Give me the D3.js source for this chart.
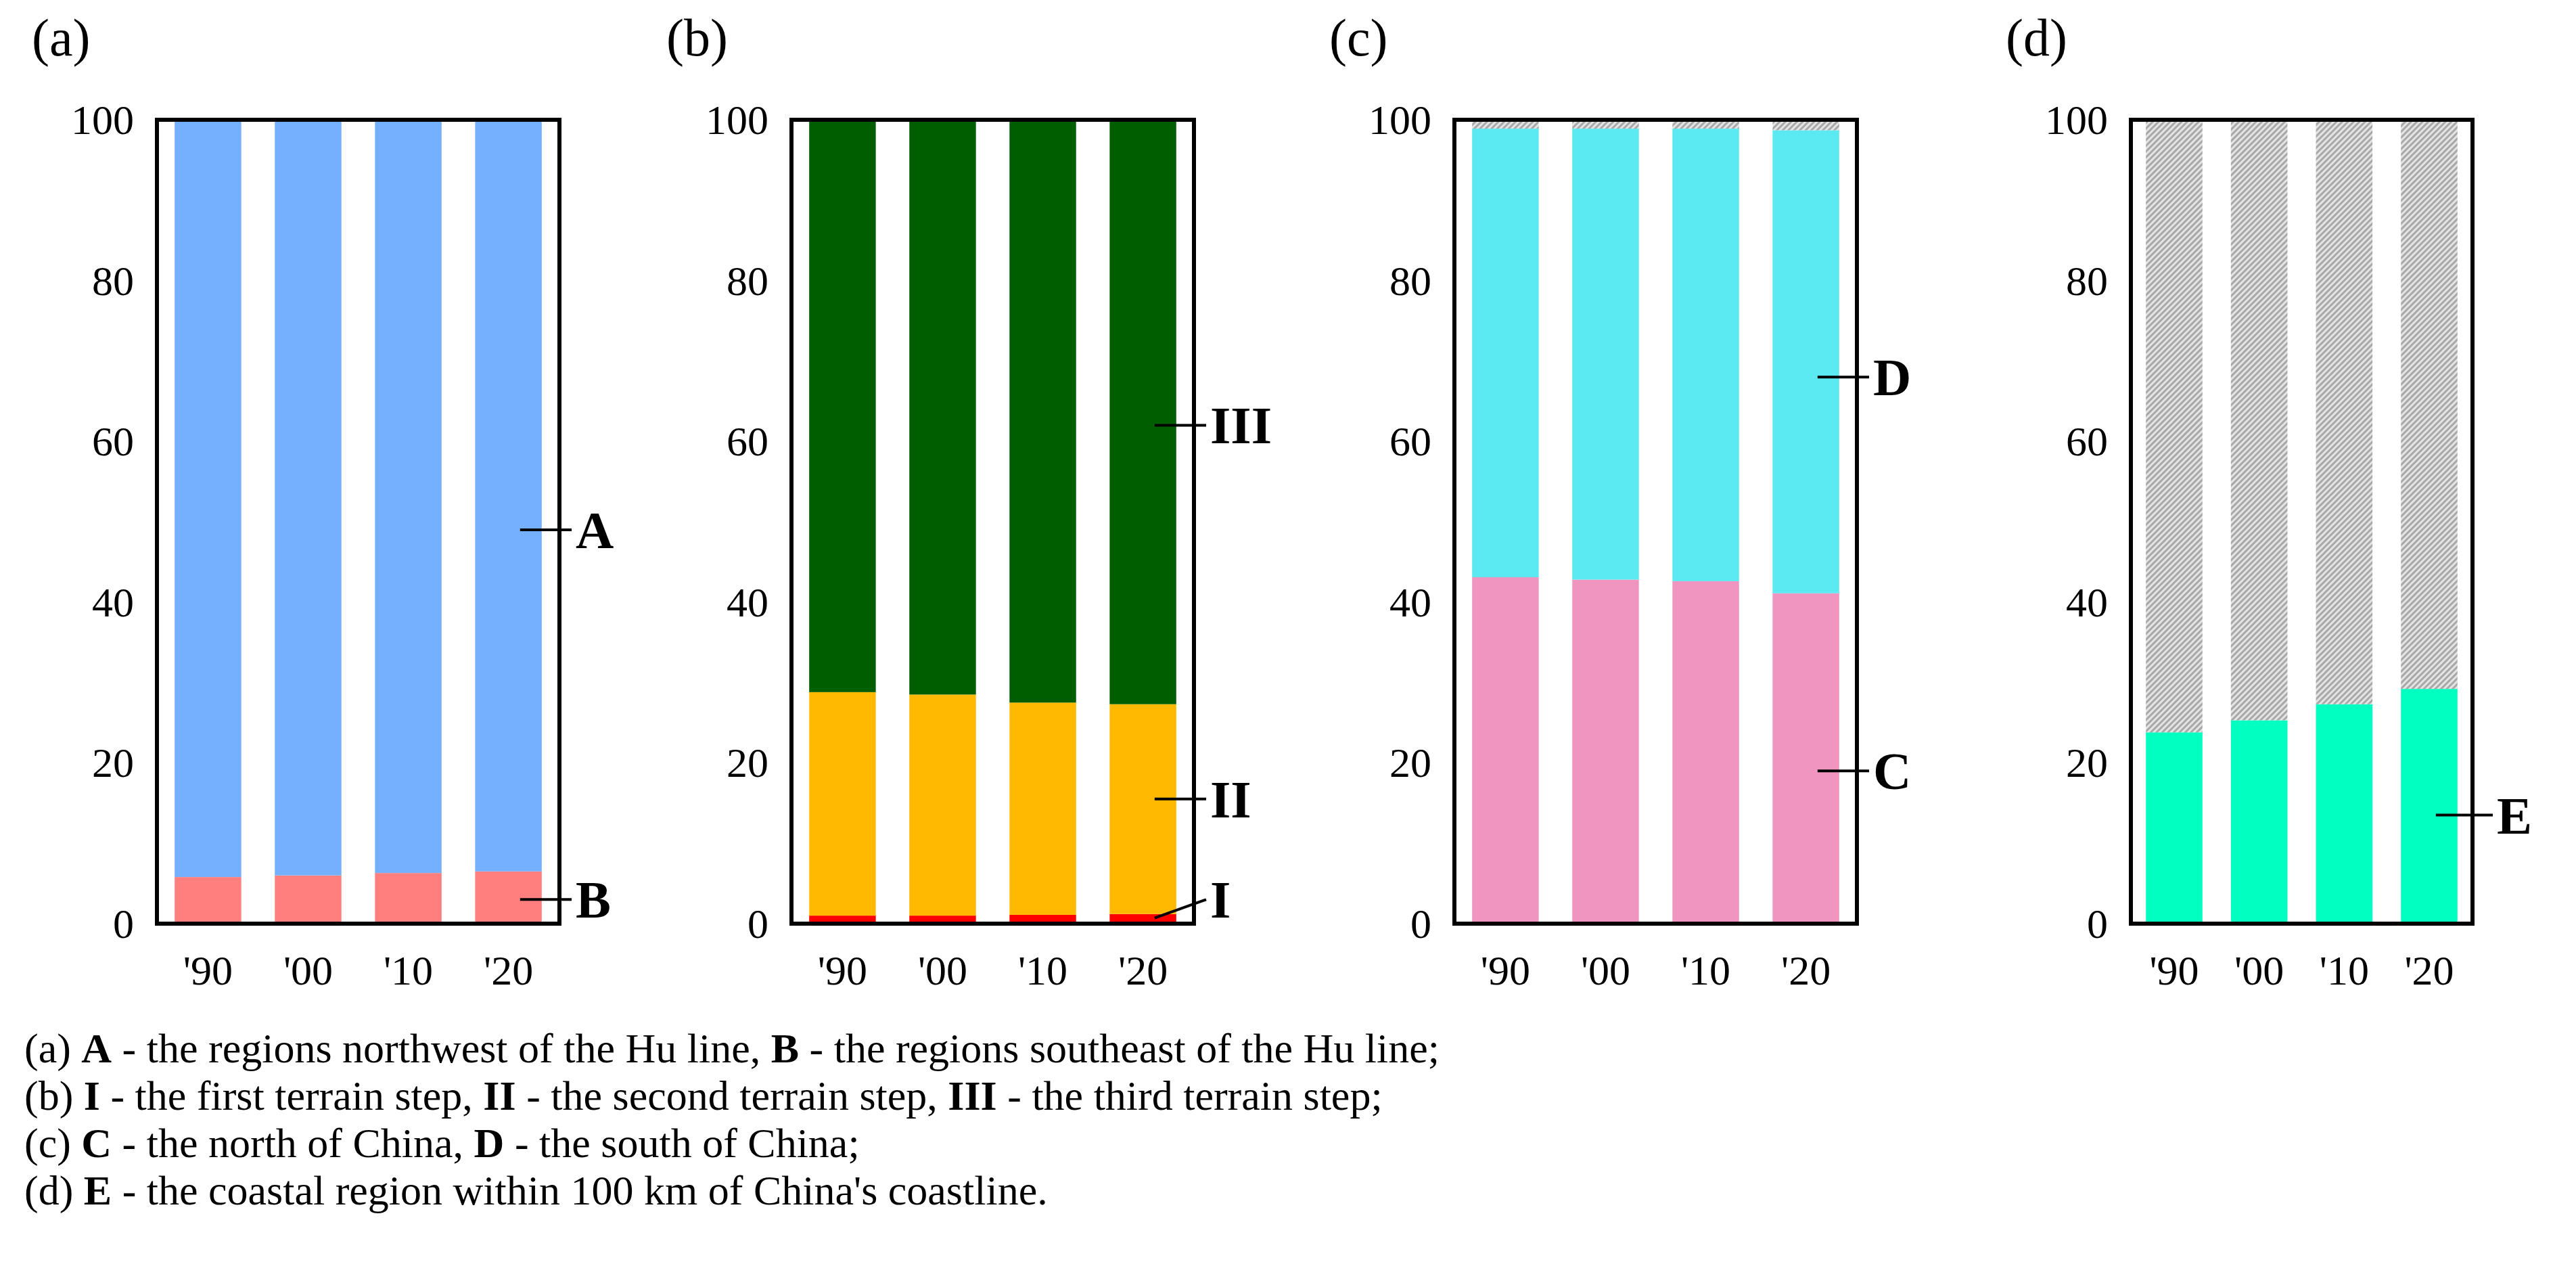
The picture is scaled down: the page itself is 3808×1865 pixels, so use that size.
<!DOCTYPE html>
<html><head><meta charset="utf-8">
<script src="https://cdn.jsdelivr.net/npm/d3@7"></script>
<style>body{margin:0;background:#fff}text{font-family:"Liberation Serif","Times New Roman",serif}</style>
</head><body><svg id="c" width="3808" height="1865"></svg>
<script>
const years = ["'90","'00","'10","'20"];
const yTicks = [0,20,40,60,80,100];
const panelNames = ["(a)","(b)","(c)","(d)"];
// (a)
const aB = [5.8,6.0,6.3,6.5];
const aA = [94.2,94.0,93.7,93.5];
// (b)
const bI = [1.0,1.0,1.1,1.2];
const bII = [27.8,27.5,26.4,26.1];
const bIII = [71.2,71.5,72.5,72.7];
// (c)
const cC = [43.1,42.8,42.6,41.1];
const cD = [55.8,56.1,56.3,57.6];
const cRest = [1.1,1.1,1.1,1.3];
// (d)
const dE = [23.8,25.3,27.3,29.2];
const dRest = [76.2,74.7,72.7,70.8];

const panels = [
  {series:[{v:aB,c:"#ff7f7f"},{v:aA,c:"#75b0ff"}],
   labels:[{t:"A",val:49},{t:"B",val:3}]},
  {series:[{v:bI,c:"#ff0000"},{v:bII,c:"#ffb900"},{v:bIII,c:"#005e00"}],
   labels:[{t:"III",val:62},{t:"II",val:15.5},{t:"I",val:0.7,slant:3}]},
  {series:[{v:cC,c:"#ef95bf"},{v:cD,c:"#5ceaf2"},{v:cRest,c:"url(#hatch)"}],
   labels:[{t:"D",val:68},{t:"C",val:19}]},
  {series:[{v:dE,c:"#00ffc0"},{v:dRest,c:"url(#hatch)"}],
   labels:[{t:"E",val:13.5,far:true}]}
];
const lefts = [232,1170,2150,3150];
const widths = [595,595,595,505];
const yTop = 177, yBottom = 1365;

const svg = d3.select("#c");
const defs = svg.append("defs");
const p = defs.append("pattern").attr("id","hatch").attr("patternUnits","userSpaceOnUse")
  .attr("width",6).attr("height",6).attr("patternTransform","rotate(-45)");
p.append("rect").attr("width",6).attr("height",6).attr("fill","#e4e4e4");
p.append("rect").attr("width",6).attr("height",3).attr("fill","#a8a8a8");

const y = d3.scaleLinear().domain([0,100]).range([yBottom,yTop]);

panels.forEach((pn,i)=>{
  const L = lefts[i], W = widths[i];
  const pad = W*0.044;
  const x = d3.scaleBand().domain(years).range([L+pad,L+W-pad]).paddingInner(0.335).paddingOuter(0);
  const g = svg.append("g");
  const stacked = years.map((yr,j)=>{let acc=0;return pn.series.map(s=>{const r={yr,y0:acc,y1:acc+s.v[j],c:s.c};acc+=s.v[j];return r;});}).flat();
  g.selectAll("rect.bar").data(stacked).join("rect")
    .attr("x",d=>x(d.yr)).attr("width",x.bandwidth())
    .attr("y",d=>y(d.y1)).attr("height",d=>y(d.y0)-y(d.y1)).attr("fill",d=>d.c);
  g.append("rect").attr("x",L).attr("y",yTop).attr("width",W).attr("height",yBottom-yTop)
    .attr("fill","none").attr("stroke","#000").attr("stroke-width",6);
  g.selectAll("text.yt").data(yTicks).join("text")
    .attr("x",L-34).attr("y",d=>y(d)+21).attr("text-anchor","end").attr("font-size",62).text(d=>d);
  g.selectAll("text.xt").data(years).join("text")
    .attr("x",d=>x(d)+x.bandwidth()/2).attr("y",1455).attr("text-anchor","middle").attr("font-size",62).text(d=>d);
  svg.append("text").attr("x",L-185).attr("y",82).attr("font-size",78).text(panelNames[i]);
  const xr = L+W;
  pn.labels.forEach(lb=>{
    const yy = y(lb.val);
    const x1 = x(years[3])+x.bandwidth()-32;
    const x2 = xr+(lb.far?30:18);
    const y2 = lb.slant? y(lb.slant): yy;
    g.append("line").attr("x1",x1).attr("y1",yy).attr("x2",x2).attr("y2",y2).attr("stroke","#000").attr("stroke-width",4);
    g.append("text").attr("x",x2+6).attr("y",y2+27).attr("font-size",78).attr("font-weight","bold").text(lb.t);
  });
});

const caption = [
  [["(a) ",0],["A",1],[" - the regions northwest of the Hu line, ",0],["B",1],[" - the regions southeast of the Hu line;",0]],
  [["(b) ",0],["I",1],[" - the first terrain step, ",0],["II",1],[" - the second terrain step, ",0],["III",1],[" - the third terrain step;",0]],
  [["(c) ",0],["C",1],[" - the north of China, ",0],["D",1],[" - the south of China;",0]],
  [["(d) ",0],["E",1],[" - the coastal region within 100 km of China's coastline.",0]]
];
caption.forEach((line,k)=>{
  const t = svg.append("text").attr("x",36).attr("y",1570+k*70).attr("font-size",62);
  line.forEach(([s,b])=>t.append("tspan").attr("font-weight",b?"bold":"normal").text(s));
});
</script></body></html>
